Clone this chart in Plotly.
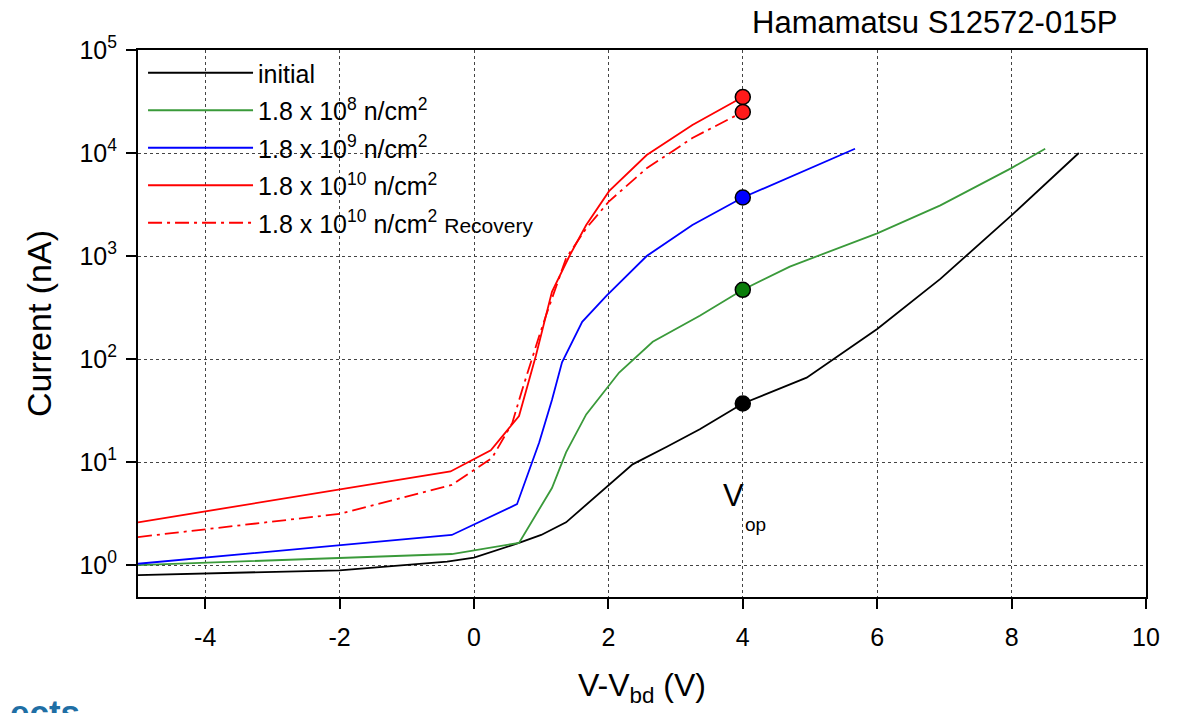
import plotly.graph_objects as go

# ---- data ----
initial_x = [-5, -2, -0.4, 0, 0.67, 1.0, 1.37, 1.76, 2.01, 2.36, 2.87, 3.36, 4.0, 4.95, 6.0, 6.94, 7.99, 9.0]
initial_y = [0.80, 0.89, 1.08, 1.18, 1.64, 1.96, 2.6, 4.3, 6.0, 9.5, 14.1, 20.8, 37, 66, 196, 600, 2450, 10000]

g8_x = [-5, -2, -0.33, 0.67, 1.16, 1.37, 1.67, 2.16, 2.66, 3.36, 4.0, 4.7, 6.0, 6.94, 7.99, 8.5]
g8_y = [1.0, 1.17, 1.28, 1.64, 5.6, 12.4, 29, 74, 147, 263, 470, 790, 1660, 3100, 7100, 11000]

b9_x = [-5, -2, -0.33, 0.64, 0.87, 0.97, 1.16, 1.31, 1.61, 1.97, 2.57, 3.25, 4.0, 5.67]
b9_y = [1.03, 1.57, 1.96, 3.9, 9.9, 15.5, 40, 93, 230, 410, 1000, 2000, 3700, 11000]

r10_x = [-5, -2, -0.35, 0.25, 0.67, 0.92, 1.16, 1.42, 1.67, 2.01, 2.57, 3.25, 4.0]
r10_y = [2.6, 5.4, 8.1, 13, 28, 107, 450, 1000, 2000, 4260, 9550, 18700, 35000]

rec_x = [-5, -2, -0.33, 0.27, 0.57, 0.72, 0.97, 1.07, 1.37, 1.67, 2.01, 2.57, 3.25, 4.0]
rec_y = [1.87, 3.14, 6.0, 11, 24, 51, 167, 263, 950, 1860, 3400, 7100, 14000, 25000]

# operating-voltage points
vop_x = [4, 4, 4, 4, 4]
vop_y = [37, 470, 3700, 35000, 25000]
vop_colors = ["#000000", "#0a7d0a", "#0000ff", "#ff1a1a", "#ff1a1a"]

x_tickvals = [-4, -2, 0, 2, 4, 6, 8, 10]
x_ticktext = ["-4", "-2", "0", "2", "4", "6", "8", "10"]
y_tickvals = [1, 10, 100, 1000, 10000, 100000]
y_ticktext = ["10<sup>0</sup>", "10<sup>1</sup>", "10<sup>2</sup>", "10<sup>3</sup>", "10<sup>4</sup>", "10<sup>5</sup>"]

FONT = "Arial, 'Liberation Sans', sans-serif"

series = [
    (initial_x, initial_y, "initial", "#000000", "solid"),
    (g8_x, g8_y, "1.8 x 10<sup>8</sup> n/cm<sup>2</sup>", "#3a9a3a", "solid"),
    (b9_x, b9_y, "1.8 x 10<sup>9</sup> n/cm<sup>2</sup>", "#0000ff", "solid"),
    (r10_x, r10_y, "1.8 x 10<sup>10</sup> n/cm<sup>2</sup>", "#ff0000", "solid"),
    (rec_x, rec_y, "1.8 x 10<sup>10</sup> n/cm<sup>2</sup> <span style='font-size:21px'>Recovery</span>",
     "#ff0000", "14px,5px,3px,5px"),
]

fig = go.Figure()
for i, (xs, ys, name, col, dash) in enumerate(series):
    fig.add_trace(go.Scatter(x=xs, y=ys, mode="lines", name=name, legendgroup=f"g{i}",
                             line=dict(color=col, width=1.8, dash=dash)))

fig.add_trace(go.Scatter(x=vop_x, y=vop_y, mode="markers", showlegend=False,
                         marker=dict(size=15, color=vop_colors, line=dict(color="#000000", width=1.5))))

axis_common = dict(showline=True, linecolor="#000000", linewidth=2, mirror=True,
                   ticks="outside", ticklen=10, tickwidth=2, tickcolor="#000000",
                   showgrid=True, gridcolor="#444444", griddash="dot", gridwidth=1,
                   zeroline=False, automargin=False,
                   tickfont=dict(family=FONT, size=25, color="#000000"))

fig.update_xaxes(range=[-5, 10], tickvals=x_tickvals, ticktext=x_ticktext, ticklabelstandoff=7,
                 title=dict(text="V-V<sub>bd</sub> (V)", font=dict(family=FONT, size=32, color="#000000"), standoff=24),
                 **axis_common)
fig.update_yaxes(type="log", range=[-0.31, 5.0], tickvals=y_tickvals, ticktext=y_ticktext, ticklabelstandoff=4,
                 title=dict(text="Current (nA)", font=dict(family=FONT, size=34, color="#000000"), standoff=18),
                 **axis_common)

fig.add_annotation(text="V", x=3.86, y=0.68, xref="x", yref="y", showarrow=False,
                   font=dict(family=FONT, size=31, color="#000000"))
fig.add_annotation(text="op", x=4.19, y=0.39, xref="x", yref="y", showarrow=False,
                   font=dict(family=FONT, size=19, color="#000000"))
fig.add_annotation(text="Hamamatsu S12572-015P", xref="paper", yref="paper",
                   showarrow=False, font=dict(family=FONT, size=31, color="#000000"))
fig.add_annotation(text="<b>ects</b>", xref="paper", yref="paper",
                   showarrow=False, font=dict(family=FONT, size=35, color="#1f6fa5"))

# convert pixel placements for title / footer to paper coords
W, H = 1188, 713
ml, mr, mt, mb = 138, 42, 50, 116
pw, ph = W - ml - mr, H - mt - mb
anns = list(fig.layout.annotations)
anns[2].update(x=(934 - ml) / pw, y=(H - 22 - mb) / ph, xanchor="center", yanchor="middle")
anns[3].update(x=(82 - ml) / pw, y=(H - 712 - mb) / ph, xanchor="right", yanchor="middle")
fig.layout.annotations = anns

fig.update_layout(
    width=W, height=H,
    margin=dict(l=ml, r=mr, t=mt, b=mb),
    paper_bgcolor="#ffffff", plot_bgcolor="#ffffff",
    font=dict(family=FONT, color="#000000"),
    legend=dict(x=0.005, y=1.0, xanchor="left", yanchor="top", bgcolor="rgba(0,0,0,0)",
                font=dict(family=FONT, size=25, color="#000000"), tracegroupgap=2,
                itemwidth=105),
)

fig.write_html("out.html")
